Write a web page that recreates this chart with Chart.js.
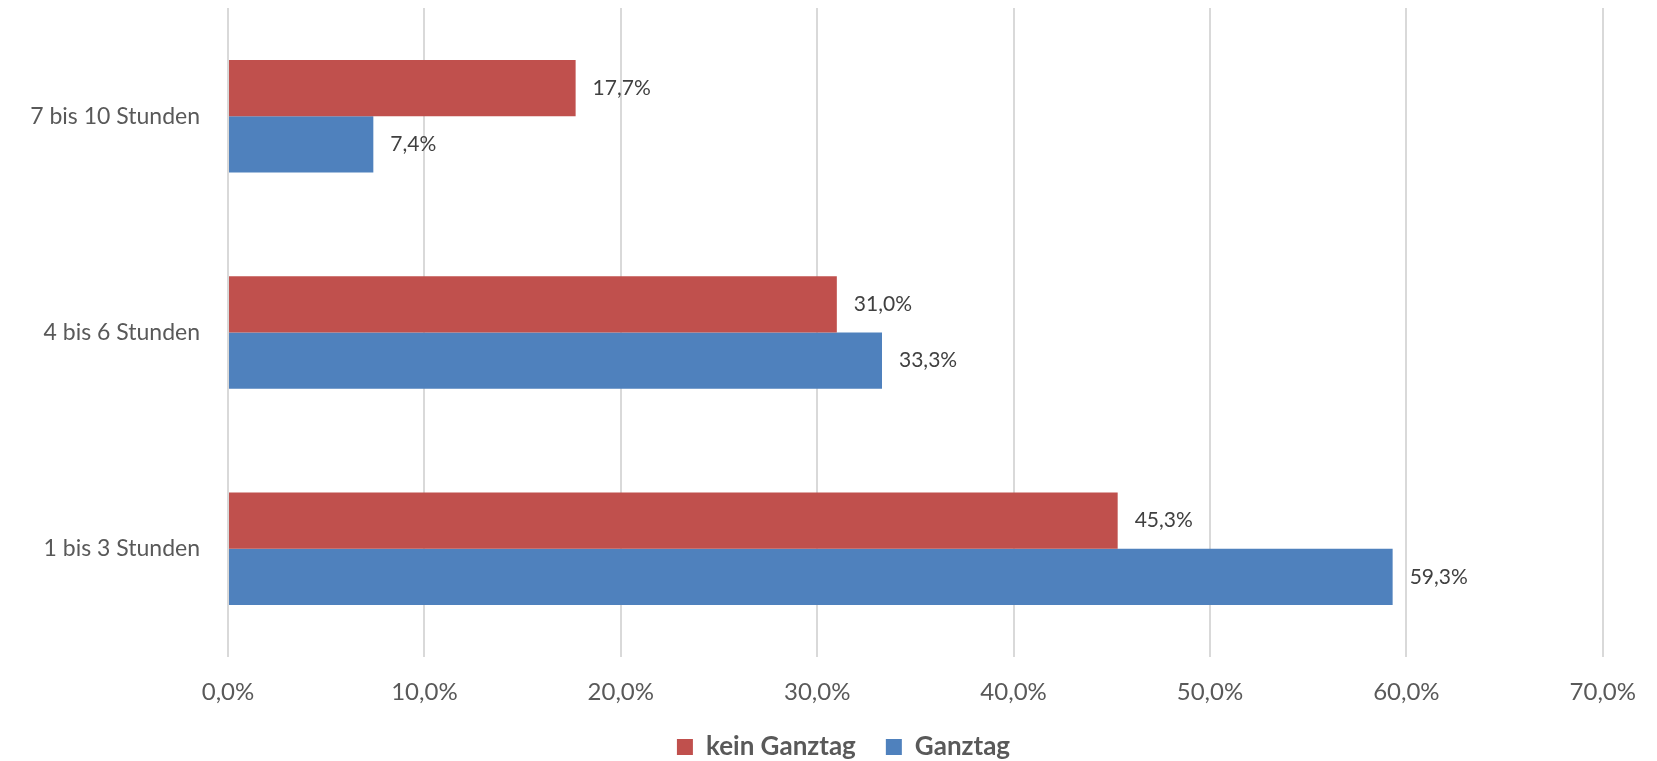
<!DOCTYPE html>
<html>
<head>
<meta charset="utf-8">
<script src="https://cdn.jsdelivr.net/npm/chart.js@4"></script>
<style>
  html, body { margin: 0; padding: 0; background: #fff; }
  #wrap { width: 1657px; height: 761px; }
</style>
</head>
<body>
<div id="wrap"><canvas id="chart"></canvas></div>
<script>
// Categories (top to bottom)
const categories = ["7 bis 10 Stunden", "4 bis 6 Stunden", "1 bis 3 Stunden"];

// Series values in percent
const keinGanztag = [17.7, 31.0, 45.3];
const ganztag = [7.4, 33.3, 59.3];

// x axis ticks
const xTicks = [0, 10, 20, 30, 40, 50, 60, 70];

const fmt = (v) => v.toFixed(1).replace(".", ",") + "%";

// draws the value next to each bar end
const barLabels = {
  id: "barLabels",
  afterLayout(chart) {
    // legend in the original sits a bit right of the canvas centre
    chart.legend.left += 41;
    chart.legend.right += 41;
  },
  afterDatasetsDraw(chart) {
    const ctx = chart.ctx;
    ctx.save();
    ctx.font = "21px Lato";
    ctx.fillStyle = "#404040";
    ctx.textAlign = "left";
    ctx.textBaseline = "middle";
    chart.data.datasets.forEach((ds, i) => {
      chart.getDatasetMeta(i).data.forEach((bar, j) => {
        ctx.fillText(fmt(ds.data[j]), bar.x + 17, bar.y);
      });
    });
    ctx.restore();
  },
};

let myChart = new Chart(document.getElementById("chart"), {
  type: "bar",
  plugins: [barLabels],
  data: {
    labels: categories,
    datasets: [
      { label: "kein Ganztag", data: keinGanztag, backgroundColor: "#C0504D" },
      { label: "Ganztag", data: ganztag, backgroundColor: "#4F81BD" },
    ],
  },
  options: {
    indexAxis: "y",
    responsive: true,
    maintainAspectRatio: false,
    animation: false,
    layout: { padding: { top: 8, right: 52, bottom: -9, left: 0 } },
    datasets: { bar: { categoryPercentage: 0.52, barPercentage: 1 } },
    scales: {
      x: {
        min: 0,
        max: 70,
        afterBuildTicks: (scale) => {
          scale.ticks = xTicks.map((v) => ({ value: v }));
        },
        afterFit: (scale) => {
          scale.height = 47;
        },
        grid: { color: "#D9D9D9", lineWidth: 2, drawTicks: false },
        border: { display: false },
        ticks: {
          padding: 21,
          color: "#595959",
          font: { family: "Lato", size: 24 },
          callback: (v) => fmt(v),
        },
      },
      y: {
        afterFit: (scale) => {
          scale.width = 228;
          scale.paddingTop = 0;
          scale.paddingBottom = 0;
        },
        grid: { display: false, drawTicks: false },
        border: { display: false },
        ticks: {
          padding: 28,
          color: "#595959",
          font: { family: "Lato", size: 23 },
        },
      },
    },
    plugins: {
      tooltip: { enabled: false },
      legend: {
        position: "bottom",
        labels: {
          boxWidth: 16,
          boxHeight: 16,
          padding: 30,
          color: "#595959",
          font: { family: "Lato", size: 26, weight: "bold", lineHeight: 1 },
        },
      },
    },
  },
});
</script>
</body>
</html>
